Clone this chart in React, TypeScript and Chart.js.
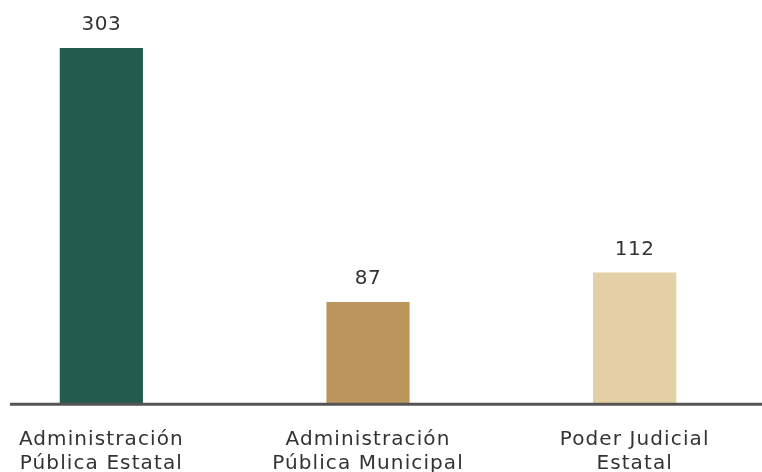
import React, { useEffect, useRef } from "react";
import { Chart, registerables } from "chart.js";

Chart.register(...registerables);

const categories: string[][] = [
  ["Administración", "Pública Estatal"],
  ["Administración", "Pública Municipal"],
  ["Poder Judicial", "Estatal"],
];
const values: number[] = [303, 87, 112];
const barColors: string[] = ["#235B4E", "#BC955C", "#E3D0A6"];
const FONT = "'DejaVu Sans', 'Open Sans', sans-serif";

const spacing = {
  id: "spacing",
  beforeInit(chart: any) {
    chart.ctx.letterSpacing = "1.1px";
  },
  beforeDraw(chart: any) {
    chart.ctx.letterSpacing = "1.1px";
  },
};

const valueLabels = {
  id: "valueLabels",
  afterDatasetsDraw(chart: any) {
    const ctx = chart.ctx;
    const meta = chart.getDatasetMeta(0);
    ctx.save();
    ctx.letterSpacing = "0.5px";
    ctx.font = `20px ${FONT}`;
    ctx.fillStyle = "#333333";
    ctx.textAlign = "center";
    ctx.textBaseline = "middle";
    meta.data.forEach((bar: any, i: number) => {
      ctx.fillText(String(values[i]), bar.x, bar.y - 23);
    });
    ctx.restore();
  },
};

const axisLine = {
  id: "axisLine",
  afterDatasetsDraw(chart: any) {
    const ctx = chart.ctx;
    const y = chart.chartArea.bottom;
    ctx.save();
    ctx.strokeStyle = "#555555";
    ctx.lineWidth = 3;
    ctx.beginPath();
    ctx.moveTo(42, y);
    ctx.lineTo(chart.width, y);
    ctx.stroke();
    ctx.restore();
  },
};

export default function App() {
  const ref = useRef<HTMLCanvasElement | null>(null);
  useEffect(() => {
    const chart = new Chart(ref.current as HTMLCanvasElement, {
      type: "bar",
      data: {
        labels: categories,
        datasets: [
          {
            data: values,
            backgroundColor: barColors,
            barPercentage: 0.312,
            categoryPercentage: 1,
          },
        ],
      },
      options: {
        responsive: false,
        animation: false,
        layout: { padding: { top: 0, bottom: 0, left: 0, right: 0 } },
        plugins: { legend: { display: false }, tooltip: { enabled: false } },
        scales: {
          x: {
            grid: { display: false, drawTicks: false },
            border: { display: false },
            ticks: {
              color: "#333333",
              padding: 23,
              font: { family: FONT, size: 20, lineHeight: 1.22 },
              maxRotation: 0,
              autoSkip: false,
            },
          },
          y: {
            display: false,
            min: 0,
            max: 343.8,
          },
        },
      },
      plugins: [spacing, valueLabels, axisLine],
    });
    return () => chart.destroy();
  }, []);
  return (
    <div
      style={{
        position: "fixed",
        left: 0,
        top: 0,
        width: 762,
        height: 472,
        overflow: "hidden",
        background: "#ffffff",
      }}
    >
      <canvas
        ref={ref}
        width={800}
        height={499}
        style={{ position: "absolute", left: -32, top: 0, display: "block" }}
      />
    </div>
  );
}
